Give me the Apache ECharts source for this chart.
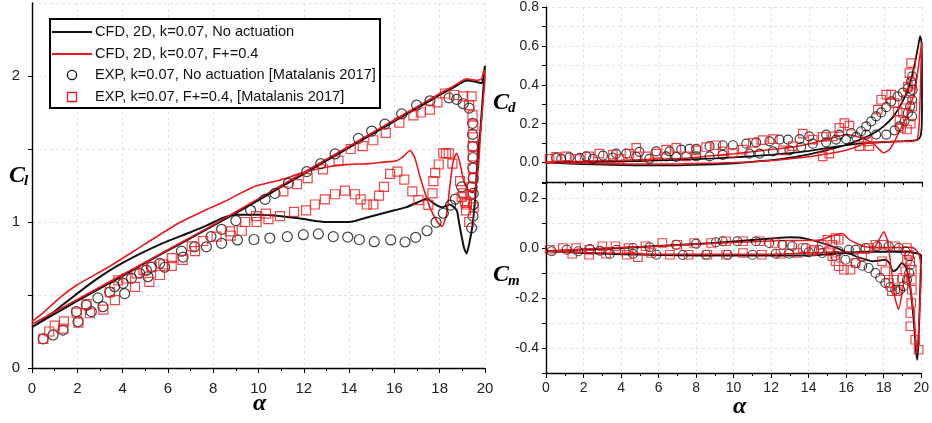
<!DOCTYPE html>
<html><head><meta charset="utf-8">
<script src="https://cdn.jsdelivr.net/npm/echarts@6/dist/echarts.min.js"></script>
<style>html,body{margin:0;padding:0;background:#fff}#c{width:932px;height:423px}</style>
</head><body><div id="c"></div>
<script>
// ---------- DATA (alpha, value) ----------
const xTicksMajor = [0,2,4,6,8,10,12,14,16,18,20];
const legendLabels = [
  'CFD, 2D, k=0.07, No actuation',
  'CFD, 2D, k=0.07, F+=0.4',
  'EXP, k=0.07, No actuation [Matalanis 2017]',
  'EXP, k=0.07, F+=0.4, [Matalanis 2017]'
];
// Lift coefficient
const clCfdBase = [[0,0.28],[1,0.37],[2,0.46],[3,0.545],[4,0.63],[5,0.72],[6,0.805],[7,0.89],[8,0.975],[9,1.06],[10,1.15],[11,1.24],[12,1.33],[13,1.42],[14,1.51],[15,1.6],[16,1.69],[17,1.78],[18,1.87],[18.6,1.92],[19.2,1.97],[19.6,1.96],[19.85,1.95],[19.95,2.02],[20,2.07],
  [19.9,1.85],[19.78,1.6],[19.7,1.49],[19.56,1.15],[19.45,0.98],[19.34,0.88],[19.19,0.785],[19.08,0.82],[18.97,0.9],[18.85,1.0],[18.75,1.08],[18.45,1.12],[18.1,1.1],[17.8,1.12],[17.43,1.16],[17.1,1.14],[16.5,1.1],[16,1.08],[15,1.04],[14,1.0],[13,1.0],[12,1.02],[11,1.04],[10,1.05],[9,1.05],[8.45,1.03],[7.77,0.98],[7,0.93],[5.7,0.85],[4,0.72],[2.77,0.6],[1.5,0.45],[0.5,0.33],[0,0.28]];
const clCfdAct = [[0,0.3],[1,0.385],[2,0.47],[3,0.555],[4,0.64],[5,0.725],[6,0.81],[7,0.895],[8,0.98],[9,1.07],[10,1.16],[11,1.25],[12,1.34],[13,1.43],[14,1.52],[15,1.61],[16,1.7],[17,1.79],[18,1.88],[18.6,1.93],[19.2,1.98],[19.6,1.97],[19.85,1.98],[19.95,2.04],[20,2.0],
  [19.9,1.8],[19.8,1.6],[19.72,1.4],[19.6,1.25],[19.45,1.2],[19.25,1.22],[19.05,1.29],[18.9,1.4],[18.75,1.47],[18.6,1.42],[18.45,1.25],[18.3,1.05],[18.1,0.97],[17.9,1.0],[17.57,1.1],[17.13,1.31],[16.9,1.44],[16.69,1.49],[16.4,1.45],[16.1,1.42],[15.5,1.41],[14.9,1.4],[14,1.395],[13.16,1.38],[12,1.34],[11,1.29],[9.77,1.24],[8.5,1.14],[7.77,1.09],[6.45,0.99],[5,0.85],[3.36,0.69],[2,0.57],[1.3,0.49],[0.5,0.38],[0,0.32]];
const clExpBase = [[0.49,0.2],[0.93,0.226],[1.37,0.26],[1.96,0.386],[2.03,0.317],[2.4,0.43],[2.62,0.386],[2.91,0.48],[3.13,0.42],[3.43,0.52],[3.65,0.557],[4.02,0.58],[4.09,0.51],[4.39,0.614],[4.75,0.65],[5.05,0.67],[5.12,0.625],[5.27,0.69],[5.64,0.717],[5.86,0.69],[6.6,0.8],[6.67,0.76],[7.18,0.83],[7.7,0.83],[7.9,0.9],
  [8.37,0.854],[9.07,0.877],[9.8,0.88],[10.5,0.89],[11.27,0.9],[11.98,0.913],[12.64,0.918],[13.3,0.9],[13.94,0.897],[14.45,0.88],[15.11,0.865],[15.84,0.877],[16.47,0.863],[16.94,0.895],[17.44,0.94],[17.84,0.998],[18.16,1.06],[18.48,1.116],[18.69,1.157],[18.97,1.24],
  [8.37,0.95],[9.0,1.01],[9.65,1.08],[10.29,1.155],[10.73,1.196],[11.32,1.265],[12.13,1.345],[12.75,1.4],[13.38,1.466],[14.41,1.573],[15.0,1.623],[15.58,1.67],[16.32,1.74],[16.98,1.8],[17.57,1.83],[18.41,1.85],[18.75,1.84],[19.04,1.81],
  [19.3,1.78],[19.45,1.676],[19.45,1.6],[19.46,1.516],[19.47,1.44],[19.47,1.368],[19.48,1.3],[19.43,1.24],[19.48,1.196],[19.48,1.12],[19.47,1.04],[19.41,0.96]];
const clExpAct = [[0.5,0.2],[0.76,0.25],[1.0,0.29],[1.38,0.27],[1.41,0.32],[1.97,0.379],[2.05,0.31],[2.41,0.438],[2.56,0.375],[3.15,0.4],[3.44,0.52],[3.66,0.465],[3.81,0.6],[4.15,0.613],[4.55,0.555],[4.62,0.648],[4.92,0.67],[5.18,0.59],[5.28,0.694],[5.65,0.637],[5.8,0.71],[6.17,0.7],[6.17,0.753],[6.65,0.74],[7.05,0.833],[7.2,0.8],[7.56,0.87],[8.15,0.9],[8.74,0.936],[8.77,0.906],[9.26,0.94],[9.41,1.0],[9.92,1.0],[9.89,1.04],[10.33,1.058],[10.44,1.02],[10.95,1.04],[11.57,1.07],[12.1,1.08],[12.49,1.12],[12.93,1.155],[13.38,1.19],[13.82,1.215],[14.26,1.19],[14.51,1.155],[14.78,1.12],[15.07,1.12],[15.32,1.18],[15.54,1.24],[15.81,1.33],[16.13,1.345],[16.44,1.29],[16.79,1.21],[17.06,1.15],[17.5,1.117],[17.68,1.196],[17.72,1.28],[17.8,1.337],[17.96,1.394],[18.16,1.47],[18.28,1.47],[18.4,1.47],[18.56,1.4],[18.9,1.28],[19.04,1.196],[19.12,1.14],[19.16,1.08],[18.97,1.17],[19.2,1.13],
  [11.1,1.21],[11.7,1.26],[12.17,1.3],[12.85,1.36],[13.53,1.42],[14.07,1.5],[14.6,1.52],[15.07,1.56],[15.62,1.61],[16.22,1.68],[16.84,1.73],[17.17,1.75],[17.57,1.77],[17.9,1.82],[18.24,1.88],[18.64,1.87],[19.04,1.86],[19.41,1.86],
  [19.3,1.8],[19.45,1.73],[19.48,1.66],[19.48,1.58],[19.46,1.52],[19.46,1.45],[19.46,1.37],[19.48,1.3],[19.4,1.24],[19.35,1.185],[19.2,1.12],[19.3,1.0],[19.5,1.1]];
// Drag coefficient
const cdCfdBase = [[0,0],[1,-0.004],[2,-0.008],[3,-0.011],[4,-0.013],[5,-0.015],[6,-0.015],[7,-0.014],[8,-0.012],[9,-0.009],[10,-0.004],[11,0.004],[12,0.012],[13,0.025],[14,0.042],[15,0.065],[16,0.092],[16.5,0.11],[17,0.13],[17.5,0.155],[18,0.19],[18.5,0.24],[19,0.32],[19.3,0.39],[19.6,0.5],[19.8,0.6],[19.9,0.65],[19.97,0.62],[20,0.5],[20,0.3],[19.98,0.18],[19.9,0.13],[19.7,0.115],[19,0.11],[18,0.105],[17,0.1],[16,0.09],[15,0.075],[14,0.06],[13,0.048],[12,0.04],[11,0.033],[10,0.027],[9,0.022],[8,0.018],[7,0.014],[6,0.011],[5,0.008],[4,0.006],[3,0.004],[2,0.003],[1,0.002],[0,0]];
const cdCfdAct = [[0,0],[1,-0.002],[2,-0.004],[3,-0.006],[4,-0.007],[5,-0.008],[6,-0.008],[7,-0.007],[8,-0.005],[9,-0.003],[10,0],[11,0.004],[12,0.01],[13,0.02],[14,0.03],[15,0.045],[16,0.065],[16.5,0.08],[17,0.098],[17.5,0.105],[18,0.107],[18.5,0.108],[19,0.108],[19.5,0.11],[19.75,0.12],[19.85,0.2],[19.92,0.4],[19.97,0.58],[20,0.62],
  [19.9,0.56],[19.75,0.45],[19.6,0.36],[19.4,0.3],[19.2,0.24],[18.9,0.18],[18.6,0.12],[18.3,0.07],[17.95,0.05],[17.7,0.07],[17.4,0.1],[17,0.118],[16.5,0.135],[16,0.144],[15,0.12],[13.8,0.092],[12.5,0.072],[11.2,0.058],[10,0.045],[8.5,0.032],[7.6,0.024],[6,0.018],[4,0.012],[2,0.007],[0,0.003]];
const cdExpBase = [[0.54,0.024],[1.25,0.027],[2.14,0.032],[3.03,0.036],[3.73,0.046],[4.27,0.046],[4.97,0.055],[5.86,0.058],[6.57,0.058],[7.19,0.067],[7.63,0.07],[7.99,0.07],[8.7,0.084],[9.4,0.089],[9.94,0.089],[10.65,0.097],[11.18,0.104],[11.89,0.109],[12.42,0.118],[12.87,0.118],[13.49,0.121],[14.0,0.135],[14.9,0.144],[15.6,0.144],[16.23,0.152],[16.76,0.161],[17.03,0.186],[17.3,0.212],[17.56,0.238],[17.83,0.258],[18.1,0.285],[18.36,0.315],[18.7,0.34],[18.98,0.36],[19.25,0.383],[19.42,0.417],[19.48,0.443],
  [0.81,0.019],[1.79,0.024],[2.5,0.019],[3.56,0.026],[4.8,0.029],[5.5,0.019],[6.39,0.032],[6.93,0.029],[7.99,0.032],[8.7,0.032],[9.4,0.039],[10.82,0.046],[11.36,0.046],[12.07,0.058],[12.95,0.063],[13.57,0.08],[14.19,0.097],[14.9,0.104],[15.43,0.118],[15.96,0.121],[16.5,0.132],[17.03,0.144],[17.56,0.144],[18.1,0.144],[18.54,0.166],[18.8,0.186],[19.07,0.212],[19.25,0.255],[19.37,0.289],[19.48,0.323],[19.5,0.374],[19.48,0.238]];
const cdExpAct = [[0.19,0.019],[0.54,0.029],[1.07,0.032],[1.6,0.019],[2.31,0.032],[2.84,0.046],[3.56,0.041],[3.91,0.019],[4.44,0.046],[4.8,0.075],[5.33,0.032],[5.86,0.046],[6.39,0.067],[6.93,0.075],[7.46,0.032],[7.99,0.063],[8.52,0.08],[9.05,0.089],[9.4,0.058],[9.94,0.05],[10.47,0.067],[11.0,0.101],[11.53,0.115],[12.07,0.121],[12.6,0.063],[13.13,0.084],[13.66,0.149],[14.19,0.118],[14.72,0.032],[15.07,0.046],[14.72,0.132],[15.25,0.135],[15.6,0.178],[15.87,0.203],[16.14,0.19],[16.67,0.084],[17.11,0.109],[17.2,0.084],[17.65,0.272],[17.83,0.323],[18.1,0.349],[18.36,0.349],[18.54,0.306],[18.71,0.263],[18.8,0.22],[18.89,0.178],[18.98,0.255],[19.16,0.323],[19.25,0.391],[19.33,0.46],[19.42,0.511],[19.48,0.409],[19.37,0.357],[19.48,0.289],[19.4,0.2],[19.2,0.17]];
// Moment coefficient
const cmCfdBase = [[0,-0.013],[2,-0.006],[4,0],[6,0.008],[8,0.016],[10,0.026],[11,0.032],[12,0.038],[12.5,0.041],[13,0.043],[13.5,0.042],[14,0.035],[14.7,0.02],[15.5,0],[16.5,-0.033],[17,-0.045],[17.4,-0.053],[17.8,-0.05],[18.1,-0.047],[18.3,-0.06],[18.5,-0.093],[18.7,-0.085],[18.97,-0.06],[19.2,-0.08],[19.4,-0.15],[19.55,-0.25],[19.65,-0.34],[19.72,-0.41],[19.78,-0.447],[19.84,-0.4],[19.9,-0.28],[19.95,-0.15],[19.98,-0.06],[20,-0.03],
  [19.7,-0.02],[19,-0.015],[18,-0.015],[17,-0.015],[16,-0.02],[15,-0.025],[14,-0.03],[12,-0.03],[10,-0.03],[8,-0.03],[6,-0.028],[4,-0.025],[2,-0.02],[0,-0.013]];
const cmCfdAct = [[0,-0.013],[2,-0.005],[4,0.002],[6,0.008],[8,0.015],[10,0.022],[12,0.028],[13,0.03],[14,0.03],[14.7,0.033],[15.1,0.045],[15.43,0.053],[15.8,0.058],[16.14,0.035],[16.5,0.02],[17,0.005],[18,0.002],[19,0.002],[19.4,0.003],[19.6,0],[19.75,-0.01],[19.86,-0.02],[19.95,-0.05],[20,-0.1],[19.95,-0.19],[19.86,-0.33],[19.77,-0.42],
  [19.65,-0.3],[19.5,-0.2],[19.35,-0.12],[19.15,-0.11],[19.0,-0.17],[18.8,-0.245],[18.6,-0.2],[18.4,-0.08],[18.2,0.03],[18.0,0.065],[17.8,0.04],[17.5,0],[17.2,-0.02],[16.8,-0.02],[16,-0.015],[14,-0.02],[12,-0.025],[10,-0.025],[8,-0.025],[6,-0.025],[4,-0.022],[2,-0.018],[0,-0.013]];
const cmExpBase = [[0.3,-0.013],[1.1,-0.007],[2.34,-0.004],[2.87,-0.011],[3.75,-0.007],[4.64,0],[5.52,0.003],[6.94,0.013],[8.0,0.017],[9.06,0.023],[9.42,0.027],[10.2,0.027],[11.19,0.027],[11.9,0.02],[12.6,0.013],[13.13,0.007],[13.84,0],[14.55,-0.007],[15.6,-0.013],[16.14,-0.007],
  [1.72,-0.013],[3.4,-0.023],[4.64,-0.023],[5.88,-0.027],[7.29,-0.028],[8.53,-0.027],[9.68,-0.027],[11.0,-0.027],[12.25,-0.023],[12.96,-0.023],[14.0,-0.017],[14.73,-0.02],[15.43,-0.031],[15.96,-0.047],[16.5,-0.06],[16.85,-0.071],[17.2,-0.08],[17.56,-0.1],[17.82,-0.12],[18.09,-0.14],[18.35,-0.156],[18.62,-0.167],[18.88,-0.167],[19.06,-0.153],[19.24,-0.127],[19.36,-0.1],[19.42,-0.067],[19.36,-0.033],[19.15,-0.013],[18.8,0],[18.27,0.007],[17.65,0.007],[17.03,0],[16.5,-0.007]];
const cmExpAct = [[0.2,-0.007],[0.9,0],[1.6,0],[2.3,-0.007],[3.0,0.007],[3.7,0.007],[4.4,0],[5.3,0.007],[6.2,0.02],[7.0,0.013],[7.9,0.02],[8.8,0.02],[9.6,0.027],[10.5,0.027],[11.4,0.027],[12.2,0.02],[13.0,0.013],[13.7,0],[14.3,-0.007],
  [1.4,-0.023],[2.3,-0.027],[3.2,-0.023],[4.3,-0.027],[4.9,-0.037],[5.6,-0.02],[6.6,-0.027],[7.6,-0.027],[8.6,-0.027],[9.6,-0.027],[10.5,-0.02],[11.5,-0.027],[12.5,-0.023],[13.4,-0.02],[14.2,-0.013],
  [14.7,0.013],[15.0,0.033],[15.43,0.04],[15.6,0.033],[15.26,0.013],[15.08,-0.013],[15.26,-0.033],[15.43,-0.053],[15.6,-0.073],[15.88,-0.087],[16.23,-0.087],[16.5,-0.06],[16.85,-0.033],[17.2,0],[17.56,0.013],[17.91,-0.053],[18.09,-0.093],[18.27,-0.14],[18.44,-0.173],[18.7,-0.173],[18.53,-0.127],[19.0,-0.12],[19.15,-0.093],[19.24,-0.047],[19.33,-0.027],[19.42,-0.053],[19.5,-0.087],[19.5,-0.127],[19.5,-0.167],[19.47,-0.22],[19.42,-0.26],[19.42,-0.313],[19.68,-0.367],[19.86,-0.407],[19.24,0],[18.6,0.007],[18.0,0.013]];

// ---------- CHART ----------
const FONT = 'Liberation Sans';
const BLACK = '#111111', RED = '#e8191e';
const chart = echarts.init(document.getElementById('c'), null, {renderer: 'canvas'});
const gridLine = {show: true, lineStyle: {type: [3, 3], color: '#e2e2e2', width: 1}};
function xAxisFor(gi, showLabel, size) {
  return {gridIndex: gi, type: 'value', min: 0, max: 20, interval: 2,
    axisLine: {show: true, onZero: false, lineStyle: {color: '#000', width: 1.4}},
    axisTick: {show: true, length: 5, lineStyle: {color: '#000', width: 1}},
    minorTick: {show: true, splitNumber: 2, length: 3, lineStyle: {color: '#000', width: 1}},
    axisLabel: {show: showLabel, fontFamily: FONT, fontSize: size, color: '#222', margin: gi === 0 ? 13 : 8,
      formatter: v => xTicksMajor.includes(Math.round(v)) ? String(Math.round(v)) : ''},
    splitLine: gridLine};
}
function evenTenths(v) {
  const t = Math.round(v * 10);
  if (Math.abs(t - v * 10) > 1e-6 || t % 2 !== 0) return '';
  return Math.abs(v) < 1e-9 ? '0.0' : v.toFixed(1);
}
const yBase = {type: 'value',
  axisLine: {show: true, onZero: false, lineStyle: {color: '#000', width: 1.4}},
  axisTick: {show: true, length: 4, lineStyle: {color: '#000', width: 1}},
  splitLine: gridLine};
function line(name, data, color, width, xi) {
  return {name, type: 'line', xAxisIndex: xi, yAxisIndex: xi, data, showSymbol: false, symbol: 'none',
    smooth: 0.2, lineStyle: {color, width}, itemStyle: {color}, z: 2, clip: true};
}
function pts(name, data, symbol, color, size, xi) {
  return {name, type: 'scatter', xAxisIndex: xi, yAxisIndex: xi, data, symbol, symbolSize: size,
    itemStyle: {color: 'rgba(0,0,0,0)', borderColor: color, borderWidth: 1.2}, z: 3};
}
const serif = 'italic bold {s}px "Liberation Serif", "DejaVu Serif", serif';
const f = s => serif.replace('{s}', s);
function txt(x, y, t, size) {
  return {type: 'text', x, y, z: 10, style: {text: t, font: f(size), fill: '#000', textAlign: 'left', textVerticalAlign: 'middle'}};
}
const lg = {x0: 50, y0: 19, w: 330, h: 89};
const rows = [32, 54, 75, 97];
const legendGraphics = [
  {type: 'rect', shape: {x: lg.x0, y: lg.y0, width: lg.w, height: lg.h}, style: {fill: '#fff', stroke: '#000', lineWidth: 2}, z: 20},
  {type: 'line', shape: {x1: 52, y1: rows[0], x2: 92, y2: rows[0]}, style: {stroke: BLACK, lineWidth: 2}, z: 21},
  {type: 'line', shape: {x1: 52, y1: rows[1], x2: 92, y2: rows[1]}, style: {stroke: RED, lineWidth: 1.8}, z: 21},
  {type: 'circle', shape: {cx: 72, cy: rows[2], r: 4.6}, style: {fill: 'none', stroke: BLACK, lineWidth: 1.3}, z: 21},
  {type: 'rect', shape: {x: 67.5, y: rows[3] - 4.5, width: 9, height: 9}, style: {fill: 'none', stroke: RED, lineWidth: 1.3}, z: 21}
].concat(legendLabels.map((t, i) => ({type: 'text', x: 95, y: rows[i], z: 21,
  style: {text: t, font: '14.6px "Liberation Sans"', fill: '#111', textAlign: 'left', textVerticalAlign: 'middle'}})));

const option = {
  animation: false,
  backgroundColor: '#fff',
  grid: [
    {left: 32, top: 3, width: 453, height: 365},
    {left: 546, top: 7, width: 376, height: 175},
    {left: 546, top: 183, width: 376, height: 190}
  ],
  xAxis: [xAxisFor(0, true, 15), xAxisFor(1, false, 14), xAxisFor(2, true, 14)],
  yAxis: [
    Object.assign({}, yBase, {gridIndex: 0, min: 0, max: 2.5, interval: 0.5,
      axisLabel: {fontFamily: FONT, fontSize: 15, color: '#222', margin: 12, showMaxLabel: false,
        formatter: v => (Math.abs(v - Math.round(v)) < 1e-6 && v < 2.4) ? String(Math.round(v)) : ''}}),
    Object.assign({}, yBase, {gridIndex: 1, min: -0.1, max: 0.8, interval: 0.1,
      axisLabel: {fontFamily: FONT, fontSize: 14, color: '#222', margin: 7, formatter: evenTenths}}),
    Object.assign({}, yBase, {gridIndex: 2, min: -0.5, max: 0.26, interval: 0.1,
      axisLabel: {fontFamily: FONT, fontSize: 14, color: '#222', margin: 7, formatter: evenTenths}})
  ],
  series: [
    line(legendLabels[0], clCfdBase, BLACK, 2, 0),
    line(legendLabels[1], clCfdAct, RED, 1.6, 0),
    pts(legendLabels[2], clExpBase, 'circle', BLACK, 10, 0),
    pts(legendLabels[3], clExpAct, 'rect', RED, 9, 0),
    line(legendLabels[0], cdCfdBase, BLACK, 1.8, 1),
    line(legendLabels[1], cdCfdAct, RED, 1.5, 1),
    pts(legendLabels[2], cdExpBase, 'circle', BLACK, 9, 1),
    pts(legendLabels[3], cdExpAct, 'rect', RED, 8.5, 1),
    line(legendLabels[0], cmCfdBase, BLACK, 1.8, 2),
    line(legendLabels[1], cmCfdAct, RED, 1.5, 2),
    pts(legendLabels[2], cmExpBase, 'circle', BLACK, 9, 2),
    pts(legendLabels[3], cmExpAct, 'rect', RED, 8.5, 2)
  ],
  graphic: [
    txt(9, 176, 'C', 24), txt(24, 181, 'l', 15),
    txt(493, 103, 'C', 24), txt(508, 108, 'd', 15),
    txt(493, 275, 'C', 24), txt(508, 281, 'm', 15),
    txt(253, 404, 'α', 24), txt(733, 407, 'α', 24)
  ].concat(legendGraphics)
};
chart.setOption(option);
</script>
</body></html>
